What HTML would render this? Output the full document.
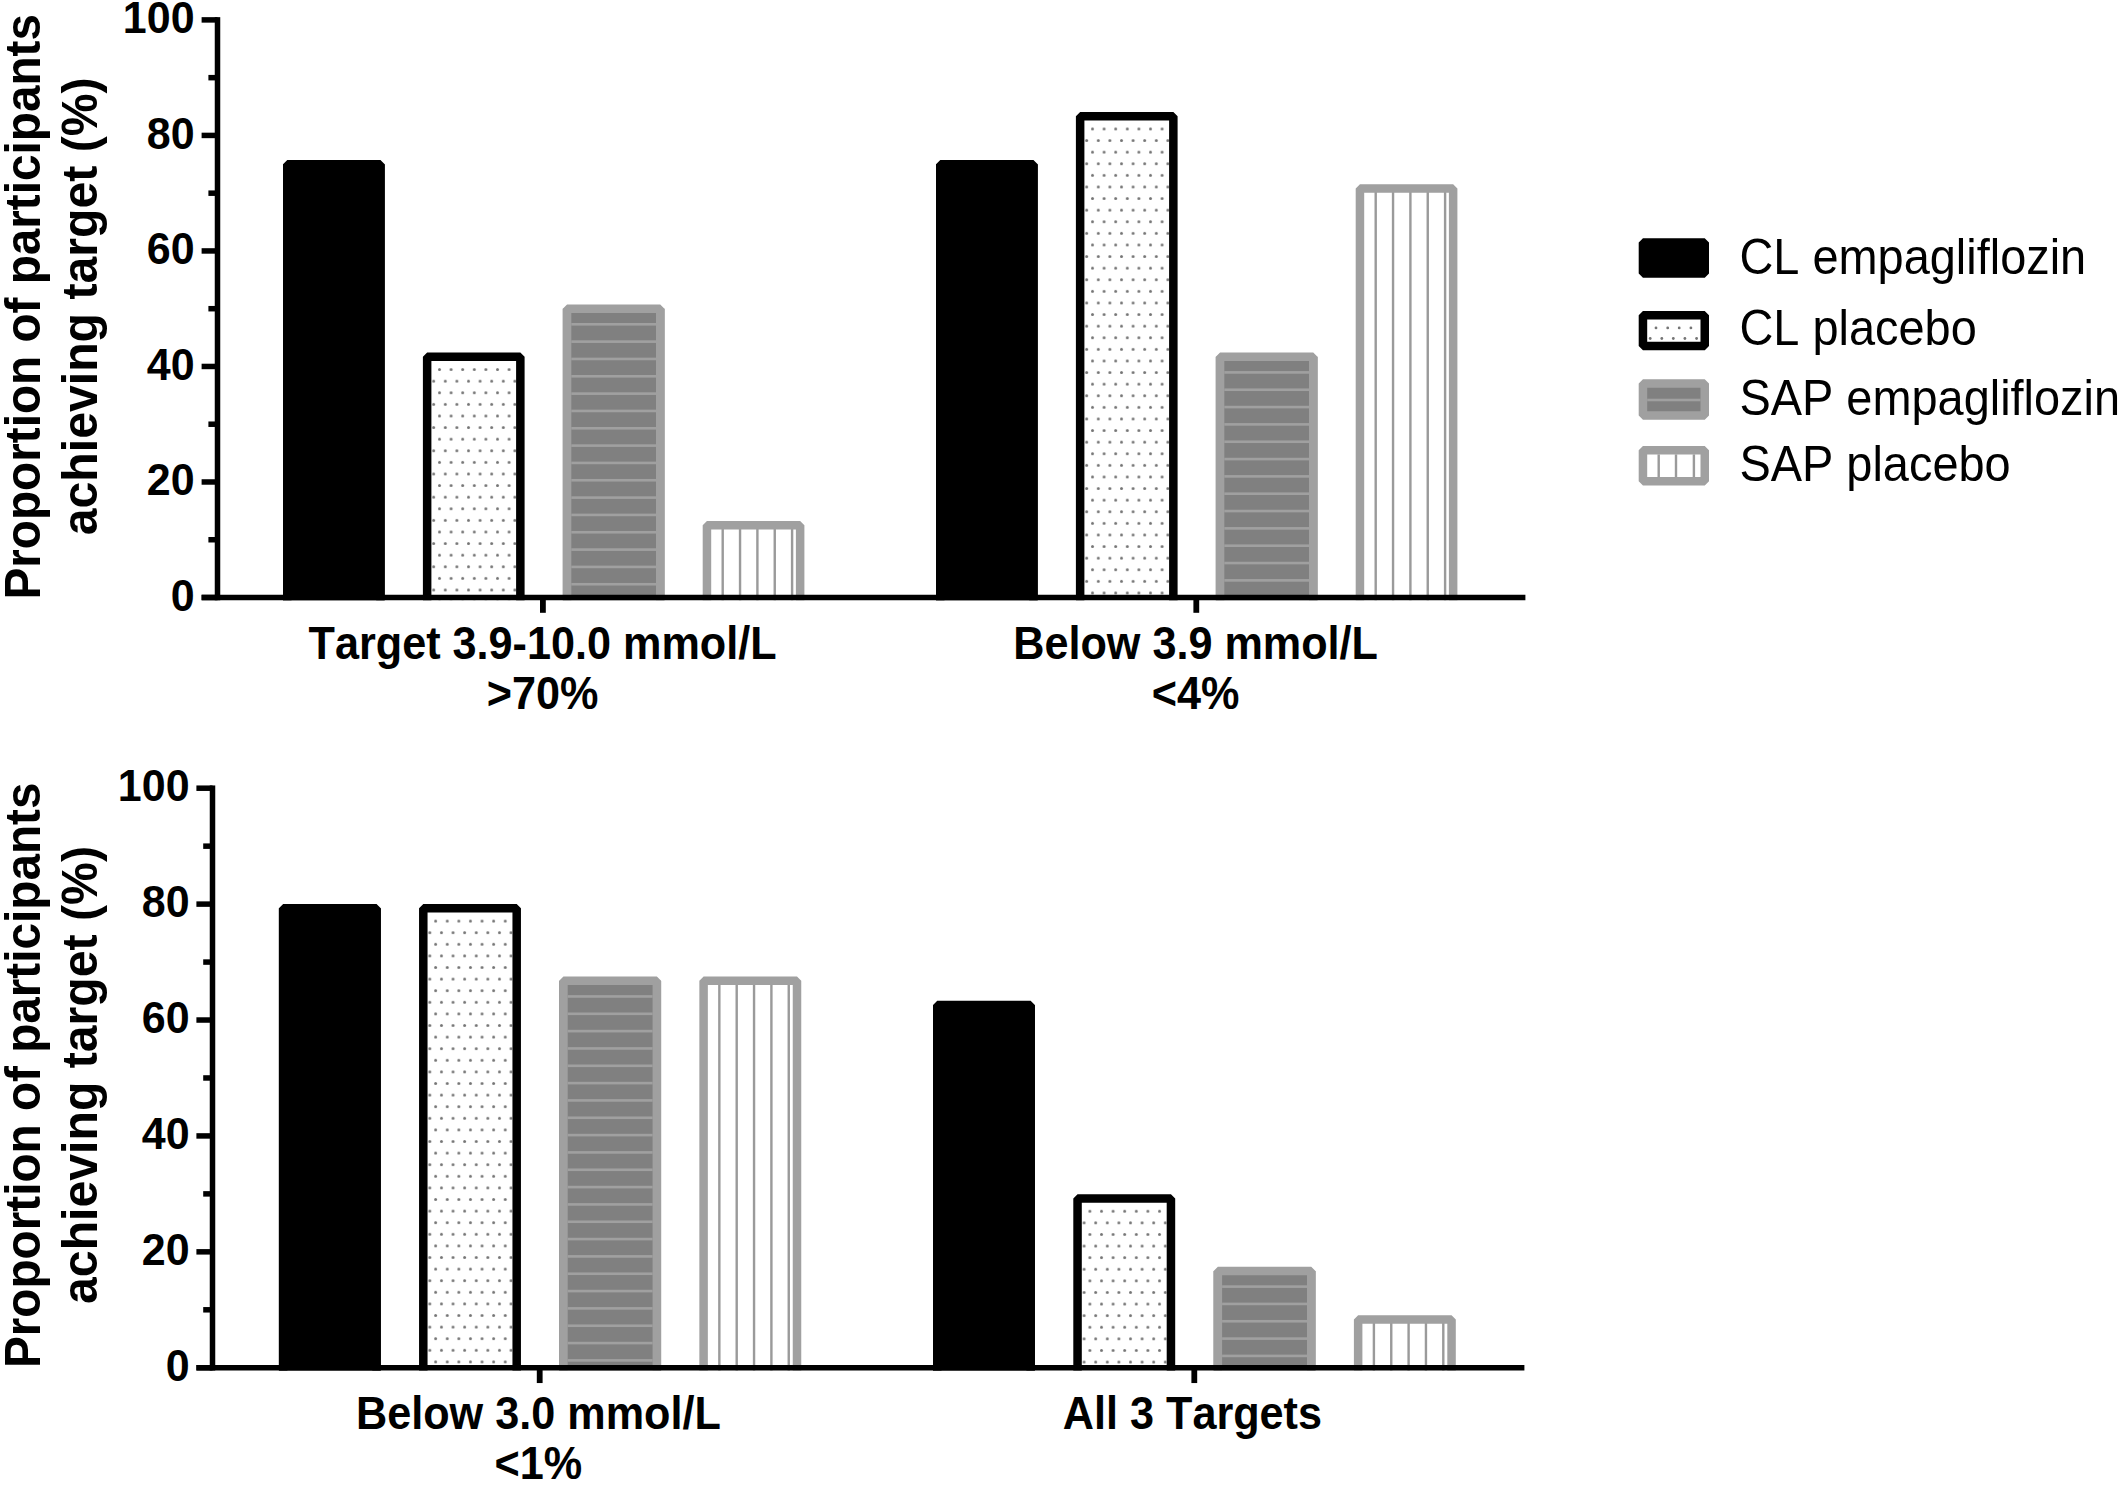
<!DOCTYPE html>
<html><head><meta charset="utf-8"><title>Proportion of participants achieving target</title>
<style>
html,body{margin:0;padding:0;background:#fff;}
svg{display:block;}
text{font-family:"Liberation Sans",Arial,Helvetica,sans-serif;fill:#000;font-kerning:none;}
.b{font-weight:bold;}
.tk{font-weight:bold;font-size:43px;text-anchor:end;}
.xl{font-weight:bold;font-size:43.2px;text-anchor:middle;}
.yt{font-weight:bold;font-size:48px;text-anchor:middle;}
.lg{font-size:46.9px;}
</style></head><body>
<svg width="2120" height="1485" viewBox="0 0 2120 1485">
<rect x="0" y="0" width="2120" height="1485" fill="#fff"/>

<g>
<rect x="283.00" y="164.30" width="101.70" height="435.95" fill="#000"/>
<path d="M287.25 600.25V164.30H380.45V600.25" fill="none" stroke="#000" stroke-width="8.5" stroke-linejoin="bevel"/>
<pattern id="d1" patternUnits="userSpaceOnUse" x="438.00" y="368.11" width="11.6" height="23.2"><circle cx="1.5" cy="1.5" r="1.5" fill="#757575"/><circle cx="7.3" cy="13.1" r="1.5" fill="#757575"/></pattern>
<rect x="422.90" y="356.81" width="101.70" height="243.44" fill="#fff"/>
<rect x="431.40" y="356.81" width="84.70" height="243.44" fill="url(#d1)"/>
<path d="M427.15 600.25V356.81H520.35V600.25" fill="none" stroke="#000" stroke-width="8.5" stroke-linejoin="bevel"/>
<rect x="562.80" y="308.70" width="101.70" height="291.55" fill="#808080"/>
<rect x="571.30" y="323.00" width="84.70" height="2.6" fill="#a0a0a0"/>
<rect x="571.30" y="340.33" width="84.70" height="2.6" fill="#a0a0a0"/>
<rect x="571.30" y="357.66" width="84.70" height="2.6" fill="#a0a0a0"/>
<rect x="571.30" y="374.99" width="84.70" height="2.6" fill="#a0a0a0"/>
<rect x="571.30" y="392.32" width="84.70" height="2.6" fill="#a0a0a0"/>
<rect x="571.30" y="409.65" width="84.70" height="2.6" fill="#a0a0a0"/>
<rect x="571.30" y="426.98" width="84.70" height="2.6" fill="#a0a0a0"/>
<rect x="571.30" y="444.31" width="84.70" height="2.6" fill="#a0a0a0"/>
<rect x="571.30" y="461.64" width="84.70" height="2.6" fill="#a0a0a0"/>
<rect x="571.30" y="478.97" width="84.70" height="2.6" fill="#a0a0a0"/>
<rect x="571.30" y="496.30" width="84.70" height="2.6" fill="#a0a0a0"/>
<rect x="571.30" y="513.63" width="84.70" height="2.6" fill="#a0a0a0"/>
<rect x="571.30" y="530.96" width="84.70" height="2.6" fill="#a0a0a0"/>
<rect x="571.30" y="548.29" width="84.70" height="2.6" fill="#a0a0a0"/>
<rect x="571.30" y="565.62" width="84.70" height="2.6" fill="#a0a0a0"/>
<rect x="571.30" y="582.95" width="84.70" height="2.6" fill="#a0a0a0"/>
<path d="M567.05 600.25V308.70H660.25V600.25" fill="none" stroke="#a0a0a0" stroke-width="8.5" stroke-linejoin="bevel"/>
<rect x="702.70" y="525.30" width="101.70" height="74.95" fill="#fff"/>
<rect x="721.50" y="525.30" width="2.4" height="74.95" fill="#9a9a9a"/>
<rect x="738.85" y="525.30" width="2.4" height="74.95" fill="#9a9a9a"/>
<rect x="756.20" y="525.30" width="2.4" height="74.95" fill="#9a9a9a"/>
<rect x="773.55" y="525.30" width="2.4" height="74.95" fill="#9a9a9a"/>
<rect x="790.90" y="525.30" width="2.4" height="74.95" fill="#9a9a9a"/>
<path d="M706.95 600.25V525.30H800.15V600.25" fill="none" stroke="#a0a0a0" stroke-width="8.5" stroke-linejoin="bevel"/>
<rect x="936.00" y="164.30" width="101.70" height="435.95" fill="#000"/>
<path d="M940.25 600.25V164.30H1033.45V600.25" fill="none" stroke="#000" stroke-width="8.5" stroke-linejoin="bevel"/>
<pattern id="d3" patternUnits="userSpaceOnUse" x="1091.00" y="127.49" width="11.6" height="23.2"><circle cx="1.5" cy="1.5" r="1.5" fill="#757575"/><circle cx="7.3" cy="13.1" r="1.5" fill="#757575"/></pattern>
<rect x="1075.90" y="116.19" width="101.70" height="484.06" fill="#fff"/>
<rect x="1084.40" y="116.19" width="84.70" height="484.06" fill="url(#d3)"/>
<path d="M1080.15 600.25V116.19H1173.35V600.25" fill="none" stroke="#000" stroke-width="8.5" stroke-linejoin="bevel"/>
<rect x="1215.80" y="356.81" width="101.70" height="243.44" fill="#808080"/>
<rect x="1224.30" y="371.11" width="84.70" height="2.6" fill="#a0a0a0"/>
<rect x="1224.30" y="388.44" width="84.70" height="2.6" fill="#a0a0a0"/>
<rect x="1224.30" y="405.77" width="84.70" height="2.6" fill="#a0a0a0"/>
<rect x="1224.30" y="423.10" width="84.70" height="2.6" fill="#a0a0a0"/>
<rect x="1224.30" y="440.43" width="84.70" height="2.6" fill="#a0a0a0"/>
<rect x="1224.30" y="457.76" width="84.70" height="2.6" fill="#a0a0a0"/>
<rect x="1224.30" y="475.09" width="84.70" height="2.6" fill="#a0a0a0"/>
<rect x="1224.30" y="492.42" width="84.70" height="2.6" fill="#a0a0a0"/>
<rect x="1224.30" y="509.75" width="84.70" height="2.6" fill="#a0a0a0"/>
<rect x="1224.30" y="527.08" width="84.70" height="2.6" fill="#a0a0a0"/>
<rect x="1224.30" y="544.41" width="84.70" height="2.6" fill="#a0a0a0"/>
<rect x="1224.30" y="561.74" width="84.70" height="2.6" fill="#a0a0a0"/>
<rect x="1224.30" y="579.07" width="84.70" height="2.6" fill="#a0a0a0"/>
<rect x="1224.30" y="596.40" width="84.70" height="2.6" fill="#a0a0a0"/>
<path d="M1220.05 600.25V356.81H1313.25V600.25" fill="none" stroke="#a0a0a0" stroke-width="8.5" stroke-linejoin="bevel"/>
<rect x="1355.70" y="188.39" width="101.70" height="411.86" fill="#fff"/>
<rect x="1374.50" y="188.39" width="2.4" height="411.86" fill="#9a9a9a"/>
<rect x="1391.85" y="188.39" width="2.4" height="411.86" fill="#9a9a9a"/>
<rect x="1409.20" y="188.39" width="2.4" height="411.86" fill="#9a9a9a"/>
<rect x="1426.55" y="188.39" width="2.4" height="411.86" fill="#9a9a9a"/>
<rect x="1443.90" y="188.39" width="2.4" height="411.86" fill="#9a9a9a"/>
<path d="M1359.95 600.25V188.39H1453.15V600.25" fill="none" stroke="#a0a0a0" stroke-width="8.5" stroke-linejoin="bevel"/>
<rect x="214.75" y="17.15" width="5.5" height="583.10" fill="#000"/>
<rect x="201.60" y="594.75" width="1323.80" height="5.5" fill="#000"/>
<rect x="201.60" y="594.75" width="15.90" height="5.5" fill="#000"/>
<text class="tk" transform="translate(194.60 610.70) scale(1 1.05)">0</text>
<rect x="208.40" y="536.99" width="9.10" height="5.5" fill="#000"/>
<rect x="201.60" y="479.23" width="15.90" height="5.5" fill="#000"/>
<text class="tk" transform="translate(194.60 495.18) scale(1 1.05)">20</text>
<rect x="208.40" y="421.47" width="9.10" height="5.5" fill="#000"/>
<rect x="201.60" y="363.71" width="15.90" height="5.5" fill="#000"/>
<text class="tk" transform="translate(194.60 379.66) scale(1 1.05)">40</text>
<rect x="208.40" y="305.95" width="9.10" height="5.5" fill="#000"/>
<rect x="201.60" y="248.19" width="15.90" height="5.5" fill="#000"/>
<text class="tk" transform="translate(194.60 264.14) scale(1 1.05)">60</text>
<rect x="208.40" y="190.43" width="9.10" height="5.5" fill="#000"/>
<rect x="201.60" y="132.67" width="15.90" height="5.5" fill="#000"/>
<text class="tk" transform="translate(194.60 148.62) scale(1 1.05)">80</text>
<rect x="208.40" y="74.91" width="9.10" height="5.5" fill="#000"/>
<rect x="201.60" y="17.15" width="15.90" height="5.5" fill="#000"/>
<text class="tk" transform="translate(194.60 33.10) scale(1 1.05)">100</text>
<rect x="540.00" y="597.50" width="5.8" height="15.3" fill="#000"/>
<rect x="1193.40" y="597.50" width="5.8" height="15.3" fill="#000"/>
<text class="xl" transform="translate(542.60 658.80) scale(1 1.05)">Target 3.9-10.0 mmol/L</text>
<text class="xl" transform="translate(542.60 709.20) scale(1 1.05)">&gt;70%</text>
<text class="xl" transform="translate(1195.60 658.80) scale(1 1.05)">Below 3.9 mmol/L</text>
<text class="xl" transform="translate(1195.60 709.20) scale(1 1.05)">&lt;4%</text>
<text class="yt" style="font-size:47.7px" transform="translate(39.80 306.80) rotate(-90) scale(1 1.05)">Proportion of participants</text>
<text class="yt" style="font-size:48.2px" transform="translate(97.20 306.30) rotate(-90) scale(1 1.05)">achieving target (%)</text>
</g>
<g>
<rect x="278.90" y="908.33" width="101.90" height="462.17" fill="#000"/>
<path d="M283.15 1370.50V908.33H376.55V1370.50" fill="none" stroke="#000" stroke-width="8.5" stroke-linejoin="bevel"/>
<pattern id="d5" patternUnits="userSpaceOnUse" x="434.15" y="919.63" width="11.6" height="23.2"><circle cx="1.5" cy="1.5" r="1.5" fill="#757575"/><circle cx="7.3" cy="13.1" r="1.5" fill="#757575"/></pattern>
<rect x="419.05" y="908.33" width="101.90" height="462.17" fill="#fff"/>
<rect x="427.55" y="908.33" width="84.90" height="462.17" fill="url(#d5)"/>
<path d="M423.30 1370.50V908.33H516.70V1370.50" fill="none" stroke="#000" stroke-width="8.5" stroke-linejoin="bevel"/>
<rect x="559.20" y="980.86" width="101.90" height="389.64" fill="#808080"/>
<rect x="567.70" y="995.16" width="84.90" height="2.6" fill="#a0a0a0"/>
<rect x="567.70" y="1012.49" width="84.90" height="2.6" fill="#a0a0a0"/>
<rect x="567.70" y="1029.82" width="84.90" height="2.6" fill="#a0a0a0"/>
<rect x="567.70" y="1047.15" width="84.90" height="2.6" fill="#a0a0a0"/>
<rect x="567.70" y="1064.48" width="84.90" height="2.6" fill="#a0a0a0"/>
<rect x="567.70" y="1081.81" width="84.90" height="2.6" fill="#a0a0a0"/>
<rect x="567.70" y="1099.14" width="84.90" height="2.6" fill="#a0a0a0"/>
<rect x="567.70" y="1116.47" width="84.90" height="2.6" fill="#a0a0a0"/>
<rect x="567.70" y="1133.80" width="84.90" height="2.6" fill="#a0a0a0"/>
<rect x="567.70" y="1151.13" width="84.90" height="2.6" fill="#a0a0a0"/>
<rect x="567.70" y="1168.46" width="84.90" height="2.6" fill="#a0a0a0"/>
<rect x="567.70" y="1185.79" width="84.90" height="2.6" fill="#a0a0a0"/>
<rect x="567.70" y="1203.12" width="84.90" height="2.6" fill="#a0a0a0"/>
<rect x="567.70" y="1220.45" width="84.90" height="2.6" fill="#a0a0a0"/>
<rect x="567.70" y="1237.78" width="84.90" height="2.6" fill="#a0a0a0"/>
<rect x="567.70" y="1255.11" width="84.90" height="2.6" fill="#a0a0a0"/>
<rect x="567.70" y="1272.44" width="84.90" height="2.6" fill="#a0a0a0"/>
<rect x="567.70" y="1289.77" width="84.90" height="2.6" fill="#a0a0a0"/>
<rect x="567.70" y="1307.10" width="84.90" height="2.6" fill="#a0a0a0"/>
<rect x="567.70" y="1324.43" width="84.90" height="2.6" fill="#a0a0a0"/>
<rect x="567.70" y="1341.76" width="84.90" height="2.6" fill="#a0a0a0"/>
<rect x="567.70" y="1359.09" width="84.90" height="2.6" fill="#a0a0a0"/>
<path d="M563.45 1370.50V980.86H656.85V1370.50" fill="none" stroke="#a0a0a0" stroke-width="8.5" stroke-linejoin="bevel"/>
<rect x="699.35" y="980.86" width="101.90" height="389.64" fill="#fff"/>
<rect x="718.15" y="980.86" width="2.4" height="389.64" fill="#9a9a9a"/>
<rect x="735.50" y="980.86" width="2.4" height="389.64" fill="#9a9a9a"/>
<rect x="752.85" y="980.86" width="2.4" height="389.64" fill="#9a9a9a"/>
<rect x="770.20" y="980.86" width="2.4" height="389.64" fill="#9a9a9a"/>
<rect x="787.55" y="980.86" width="2.4" height="389.64" fill="#9a9a9a"/>
<path d="M703.60 1370.50V980.86H797.00V1370.50" fill="none" stroke="#a0a0a0" stroke-width="8.5" stroke-linejoin="bevel"/>
<rect x="933.00" y="1005.06" width="101.90" height="365.44" fill="#000"/>
<path d="M937.25 1370.50V1005.06H1030.65V1370.50" fill="none" stroke="#000" stroke-width="8.5" stroke-linejoin="bevel"/>
<pattern id="d7" patternUnits="userSpaceOnUse" x="1088.40" y="1209.78" width="11.6" height="23.2"><circle cx="1.5" cy="1.5" r="1.5" fill="#757575"/><circle cx="7.3" cy="13.1" r="1.5" fill="#757575"/></pattern>
<rect x="1073.30" y="1198.48" width="101.90" height="172.02" fill="#fff"/>
<rect x="1081.80" y="1198.48" width="84.90" height="172.02" fill="url(#d7)"/>
<path d="M1077.55 1370.50V1198.48H1170.95V1370.50" fill="none" stroke="#000" stroke-width="8.5" stroke-linejoin="bevel"/>
<rect x="1213.60" y="1271.01" width="101.90" height="99.49" fill="#808080"/>
<rect x="1222.10" y="1285.31" width="84.90" height="2.6" fill="#a0a0a0"/>
<rect x="1222.10" y="1302.64" width="84.90" height="2.6" fill="#a0a0a0"/>
<rect x="1222.10" y="1319.97" width="84.90" height="2.6" fill="#a0a0a0"/>
<rect x="1222.10" y="1337.30" width="84.90" height="2.6" fill="#a0a0a0"/>
<rect x="1222.10" y="1354.63" width="84.90" height="2.6" fill="#a0a0a0"/>
<path d="M1217.85 1370.50V1271.01H1311.25V1370.50" fill="none" stroke="#a0a0a0" stroke-width="8.5" stroke-linejoin="bevel"/>
<rect x="1353.90" y="1319.41" width="101.90" height="51.09" fill="#fff"/>
<rect x="1372.70" y="1319.41" width="2.4" height="51.09" fill="#9a9a9a"/>
<rect x="1390.05" y="1319.41" width="2.4" height="51.09" fill="#9a9a9a"/>
<rect x="1407.40" y="1319.41" width="2.4" height="51.09" fill="#9a9a9a"/>
<rect x="1424.75" y="1319.41" width="2.4" height="51.09" fill="#9a9a9a"/>
<rect x="1442.10" y="1319.41" width="2.4" height="51.09" fill="#9a9a9a"/>
<path d="M1358.15 1370.50V1319.41H1451.55V1370.50" fill="none" stroke="#a0a0a0" stroke-width="8.5" stroke-linejoin="bevel"/>
<rect x="209.75" y="785.45" width="5.5" height="585.05" fill="#000"/>
<rect x="196.40" y="1365.00" width="1328.00" height="5.5" fill="#000"/>
<rect x="196.40" y="1365.00" width="16.10" height="5.5" fill="#000"/>
<text class="tk" transform="translate(189.60 1380.95) scale(1 1.05)">0</text>
<rect x="203.20" y="1307.05" width="9.30" height="5.5" fill="#000"/>
<rect x="196.40" y="1249.09" width="16.10" height="5.5" fill="#000"/>
<text class="tk" transform="translate(189.60 1265.04) scale(1 1.05)">20</text>
<rect x="203.20" y="1191.13" width="9.30" height="5.5" fill="#000"/>
<rect x="196.40" y="1133.18" width="16.10" height="5.5" fill="#000"/>
<text class="tk" transform="translate(189.60 1149.13) scale(1 1.05)">40</text>
<rect x="203.20" y="1075.22" width="9.30" height="5.5" fill="#000"/>
<rect x="196.40" y="1017.27" width="16.10" height="5.5" fill="#000"/>
<text class="tk" transform="translate(189.60 1033.22) scale(1 1.05)">60</text>
<rect x="203.20" y="959.32" width="9.30" height="5.5" fill="#000"/>
<rect x="196.40" y="901.36" width="16.10" height="5.5" fill="#000"/>
<text class="tk" transform="translate(189.60 917.31) scale(1 1.05)">80</text>
<rect x="203.20" y="843.41" width="9.30" height="5.5" fill="#000"/>
<rect x="196.40" y="785.45" width="16.10" height="5.5" fill="#000"/>
<text class="tk" transform="translate(189.60 801.40) scale(1 1.05)">100</text>
<rect x="536.80" y="1367.75" width="5.8" height="15.3" fill="#000"/>
<rect x="1191.40" y="1367.75" width="5.8" height="15.3" fill="#000"/>
<text class="xl" transform="translate(538.40 1429.00) scale(1 1.05)">Below 3.0 mmol/L</text>
<text class="xl" transform="translate(538.40 1479.40) scale(1 1.05)">&lt;1%</text>
<text class="xl" transform="translate(1192.40 1429.20) scale(1 1.05)">All 3 Targets</text>
<text class="yt" style="font-size:47.7px" transform="translate(39.80 1075.30) rotate(-90) scale(1 1.05)">Proportion of participants</text>
<text class="yt" style="font-size:48.2px" transform="translate(97.20 1075.00) rotate(-90) scale(1 1.05)">achieving target (%)</text>
</g>
<g>
<rect x="1642.95" y="242.45" width="61.80" height="31.10" fill="#000" stroke="#000" stroke-width="8.5" stroke-linejoin="bevel"/>
<text class="lg" transform="translate(1739.50 273.80) scale(1 1.05)">CL empagliflozin</text>
<rect x="1642.95" y="315.35" width="61.80" height="30.60" fill="#fff" stroke="#000" stroke-width="8.5" stroke-linejoin="bevel"/>
<circle cx="1656" cy="327.90" r="1.4" fill="#757575"/>
<circle cx="1667.7" cy="327.90" r="1.4" fill="#757575"/>
<circle cx="1679.2" cy="327.90" r="1.4" fill="#757575"/>
<circle cx="1690.9" cy="327.90" r="1.4" fill="#757575"/>
<circle cx="1650.2" cy="338.50" r="1.4" fill="#757575"/>
<circle cx="1661.8" cy="338.50" r="1.4" fill="#757575"/>
<circle cx="1673.3" cy="338.50" r="1.4" fill="#757575"/>
<circle cx="1684.9" cy="338.50" r="1.4" fill="#757575"/>
<circle cx="1696.6" cy="338.50" r="1.4" fill="#757575"/>
<text class="lg" transform="translate(1739.50 345.00) scale(1 1.05)">CL placebo</text>
<rect x="1642.95" y="383.45" width="61.80" height="32.00" fill="#808080" stroke="#a0a0a0" stroke-width="8.5" stroke-linejoin="bevel"/>
<rect x="1647.20" y="398.70" width="53.30" height="2.6" fill="#a0a0a0"/>
<text class="lg" transform="translate(1739.50 414.70) scale(1 1.05)">SAP empagliflozin</text>
<rect x="1642.95" y="450.15" width="61.80" height="31.20" fill="#fff" stroke="#a0a0a0" stroke-width="8.5" stroke-linejoin="bevel"/>
<rect x="1657.50" y="454.40" width="2.4" height="22.70" fill="#9a9a9a"/>
<rect x="1674.80" y="454.40" width="2.4" height="22.70" fill="#9a9a9a"/>
<rect x="1692.70" y="454.40" width="2.4" height="22.70" fill="#9a9a9a"/>
<text class="lg" transform="translate(1739.50 481.20) scale(1 1.05)">SAP placebo</text>
</g>
</svg></body></html>
